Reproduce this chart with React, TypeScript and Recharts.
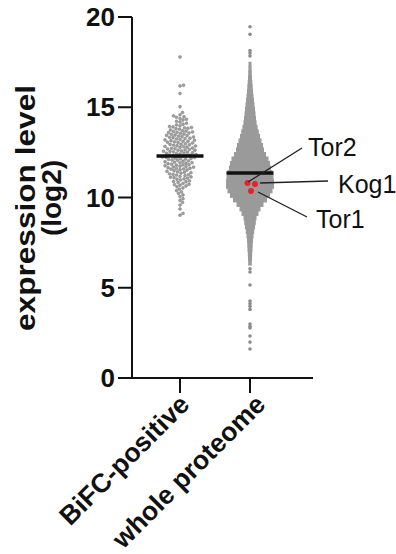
import { ReferenceDot, ReferenceLine, Scatter, ScatterChart, XAxis, YAxis } from 'recharts'

// categories and axis ticks
const categories = ['BiFC-positive', 'whole proteome']
const yTicks = [0, 5, 10, 15, 20]

// BiFC-positive proteins, log2 expression
const bifcValues = [
  17.78, 16.22, 16.18, 15.76, 15.03,
  14.58, 14.52, 14.71,
  14.44, 14.37, 14.29, 14.22, 14.18, 14.11, 14.06, 14.02, 14.33, 14.47,
  13.97, 13.93, 13.88, 13.86, 13.81, 13.78, 13.74, 13.7, 13.66, 13.63, 13.61, 13.57, 13.55, 13.52, 13.91, 13.83, 13.68, 13.59,
  13.49, 13.46, 13.44, 13.4, 13.37, 13.35, 13.31, 13.28, 13.26, 13.22, 13.19, 13.17, 13.14, 13.11, 13.08, 13.05, 13.02, 13.42, 13.33, 13.24, 13.12, 13.06,
  12.98, 12.95, 12.92, 12.9, 12.87, 12.85, 12.82, 12.79, 12.77, 12.74, 12.71, 12.69, 12.66, 12.64, 12.61, 12.58, 12.56, 12.53, 12.51, 12.94, 12.83, 12.72, 12.62, 12.55,
  12.48, 12.46, 12.43, 12.41, 12.38, 12.36, 12.33, 12.31, 12.28, 12.26, 12.23, 12.21, 12.18, 12.16, 12.13, 12.11, 12.08, 12.06, 12.03, 12.01, 12.45, 12.35, 12.24, 12.14,
  11.98, 11.95, 11.93, 11.9, 11.87, 11.84, 11.82, 11.79, 11.76, 11.73, 11.71, 11.68, 11.65, 11.62, 11.6, 11.57, 11.54, 11.52, 11.92, 11.81, 11.69, 11.58,
  11.48, 11.45, 11.42, 11.38, 11.35, 11.31, 11.28, 11.24, 11.21, 11.17, 11.14, 11.1, 11.07, 11.03, 11.4, 11.26, 11.12, 11.01,
  10.97, 10.92, 10.87, 10.83, 10.78, 10.73, 10.68, 10.64, 10.59, 10.53, 10.89, 10.71,
  10.46, 10.38, 10.31, 10.22, 10.14, 10.05,
  9.93, 9.84, 9.72, 9.58,
  9.36, 9.12, 9.02,
]
const bifcMedian = 12.3

// whole proteome: dense body as a histogram (lower bin edge, protein count per 0.25 bin)
const BIN = 0.25
const proteomeBins = [
  6.25, 6.5, 6.75, 7, 7.25, 7.5, 7.75, 8, 8.25, 8.5, 8.75, 9, 9.25, 9.5, 9.75, 10, 10.25, 10.5, 10.75,
  11, 11.25, 11.5, 11.75, 12, 12.25, 12.5, 12.75, 13, 13.25, 13.5, 13.75, 14, 14.25, 14.5, 14.75, 15,
  15.25, 15.5, 15.75, 16, 16.25, 16.5, 16.75, 17, 17.25,
]
const proteomeCounts = [
  18, 20, 22, 25, 27, 30, 35, 42, 50, 58, 65, 85, 105, 135, 170, 200, 225, 240, 240,
  235, 225, 210, 200, 185, 160, 140, 130, 115, 100, 88, 76, 66, 60, 55, 50, 45,
  40, 35, 30, 27, 23, 20, 18, 16, 15,
]
// single proteins outside the dense body
const proteomeTail = [19.46, 19.04, 18.14, 18.0, 17.84, 6.05, 5.87, 5.15, 4.27, 4.12, 3.97, 3.8, 2.99, 2.85, 2.77, 2.33, 1.99, 1.61]
const proteomeMedian = 11.36

// highlighted TORC1 proteins
const highlightNames = ['Tor2', 'Kog1', 'Tor1']
const highlightValues = [10.8, 10.75, 10.36]

// ---- layout / style ----
const W = 396
const H = 554
const PLOT_TOP = 17
const PLOT_BOTTOM = 378
const PLOT_LEFT = 132
const PLOT_RIGHT = 313
const X_MIN = -0.686
const X_MAX = 1.9
const PX_Y = (PLOT_BOTTOM - PLOT_TOP) / 20
const PX_X = (PLOT_RIGHT - PLOT_LEFT) / (X_MAX - X_MIN)
const DOT_D = 3.3
const COUNT_TO_PX = 0.1
const FONT = '"Liberation Sans", Arial, Helvetica, sans-serif'
const GRAY = '#9a9a9a'
const INK = '#111'

const labelDx = [11, 17] // rotated category labels, px right of tick
const highlightDx = [-2.5, 5, 1] // px offsets inside the swarm
const annotations = [
  { line: [[248, 182], [302, 148]], text: [303, 147] },
  { line: [[260, 183], [328, 181]], text: [333, 184] },
  { line: [[258, 192], [307, 217]], text: [311, 219] },
]
const toX = (px: number) => (px - 180) / PX_X
const toY = (py: number) => (PLOT_BOTTOM - py) / PX_Y

function swarm(values: number[], center: number) {
  const placed: { x: number; y: number }[] = []
  const sorted = [...values].sort((a, b) => a - b)
  return sorted.map((v) => {
    const py = v * PX_Y
    let off = 0
    for (let i = 0; i < 400; i++) {
      const o = (i % 2 ? 1 : -1) * Math.ceil(i / 2) * 0.5
      const hit = placed.some((p) => (p.x - o) ** 2 + (p.y - py) ** 2 < DOT_D * DOT_D)
      if (!hit) {
        off = o
        break
      }
    }
    placed.push({ x: off, y: py })
    return { x: center + off / PX_X, y: v }
  })
}

const bifcPoints = swarm(bifcValues, 0)
const massPoints = proteomeBins.map((b, i) => ({ x: 1, y: b + BIN / 2, count: proteomeCounts[i] }))
const tailPoints = proteomeTail.map((v) => ({ x: 1, y: v }))
const highlightPoints = highlightValues.map((v, i) => ({ x: 1 + highlightDx[i] / PX_X, y: v, name: highlightNames[i] }))
const medianPoints = [
  { x: 0, y: bifcMedian },
  { x: 1, y: proteomeMedian },
]

const MassSlab = (props: any) => {
  const { cx, cy, payload } = props
  const hw = payload.count * COUNT_TO_PX
  const h = BIN * PX_Y
  return <rect x={cx - hw} y={cy - h / 2 - 0.4} width={hw * 2} height={h + 0.8} fill={GRAY} />
}

const MedianBar = (props: any) => (
  <line x1={props.cx - 23.5} x2={props.cx + 23.5} y1={props.cy} y2={props.cy} stroke={INK} strokeWidth={3.4} />
)

const YTick = (props: any) => (
  <text x={props.x} y={props.y} dy={9} textAnchor="end" fontFamily={FONT} fontWeight="bold" fontSize={26} fill={INK}>
    {props.payload.value}
  </text>
)

const XTick = (props: any) => (
  <g transform={`translate(${props.x + labelDx[props.payload.value]},${PLOT_BOTTOM + 28}) rotate(-45)`}>
    <text textAnchor="end" fontFamily={FONT} fontWeight="bold" fontSize={26.5} fill={INK}>
      {categories[props.payload.value]}
    </text>
  </g>
)

const YTitle = () => (
  <g fontFamily={FONT} fontWeight="bold" fontSize={28} fill={INK} textAnchor="middle">
    <text transform={`translate(35,208) rotate(-90)`} textLength={246} lengthAdjust="spacingAndGlyphs">
      expression level
    </text>
    <text transform={`translate(61,198) rotate(-90)`}>(log2)</text>
  </g>
)

export default function App() {
  return (
    <div style={{ position: 'absolute', left: 0, top: 0, width: W, height: H, background: '#fff' }}>
      <ScatterChart
        width={W}
        height={H}
        margin={{ top: PLOT_TOP, right: W - PLOT_RIGHT, bottom: 0, left: 0 }}
      >
        <XAxis
          type="number"
          dataKey="x"
          domain={[X_MIN, X_MAX]}
          ticks={[0, 1]}
          tick={<XTick />}
          tickSize={15}
          height={H - PLOT_BOTTOM}
          axisLine={{ stroke: INK, strokeWidth: 2 }}
          tickLine={{ stroke: INK, strokeWidth: 2 }}
          allowDataOverflow
        />
        <YAxis
          type="number"
          dataKey="y"
          domain={[0, 20]}
          ticks={yTicks}
          tick={<YTick />}
          tickSize={14}
          tickMargin={3}
          width={PLOT_LEFT}
          axisLine={{ stroke: INK, strokeWidth: 2 }}
          tickLine={{ stroke: INK, strokeWidth: 2 }}
          label={{ content: () => <YTitle /> }}
        />
        <Scatter data={massPoints} shape={<MassSlab />} isAnimationActive={false} />
        <Scatter data={tailPoints} fill="#8c8c8c" shape={(p: any) => <circle cx={p.cx} cy={p.cy} r={1.8} fill="#8c8c8c" />} isAnimationActive={false} />
        <Scatter
          data={bifcPoints}
          shape={(p: any) => <circle cx={p.cx} cy={p.cy} r={1.45} fill="#a0a0a0" stroke="#7a7a7a" strokeWidth={0.5} />}
          isAnimationActive={false}
        />
        <Scatter data={medianPoints} shape={<MedianBar />} isAnimationActive={false} />
        <Scatter
          data={highlightPoints}
          shape={(p: any) => <circle cx={p.cx} cy={p.cy} r={3} fill="#e8222b" />}
          isAnimationActive={false}
        />
        {annotations.map((a, i) => (
          <ReferenceLine
            key={'l' + i}
            segment={[
              { x: toX(a.line[0][0]), y: toY(a.line[0][1]) },
              { x: toX(a.line[1][0]), y: toY(a.line[1][1]) },
            ]}
            stroke="#222"
            strokeWidth={1.4}
            ifOverflow="visible"
            zIndex={900}
          />
        ))}
        {annotations.map((a, i) => (
          <ReferenceDot
            key={'t' + i}
            x={toX(a.text[0])}
            y={toY(a.text[1])}
            r={0}
            fill="none"
            stroke="none"
            ifOverflow="visible"
            zIndex={900}
            label={{ value: highlightNames[i], position: 'right', offset: 5, fontSize: 25, fontFamily: FONT, fill: INK }}
          />
        ))}
      </ScatterChart>
    </div>
  )
}
